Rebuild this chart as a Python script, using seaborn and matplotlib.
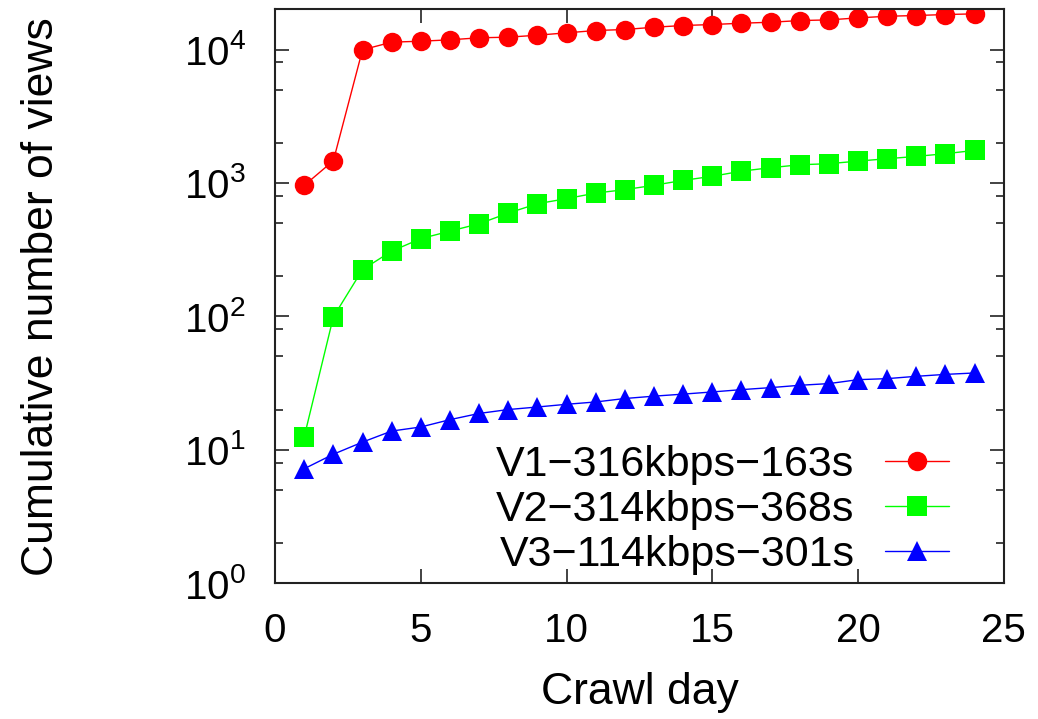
import numpy as np
import pandas as pd
import seaborn as sns
import matplotlib
matplotlib.use("Agg")
import matplotlib.pyplot as plt
from matplotlib.ticker import LogLocator, LogFormatterSciNotation, NullFormatter

# Datos
days = list(range(1, 25))
v1_views = [957, 1466, 9950, 11350, 11540, 11820, 12240, 12370, 12800, 13330, 13880, 14120,
            14690, 15130, 15390, 15740, 16010, 16480, 16670, 17260, 17750, 17980, 18290, 18500]
v2_views = [12.5, 99, 224, 308, 382, 435, 494, 594, 698, 762, 839, 890,
            960, 1045, 1120, 1225, 1300, 1368, 1393, 1457, 1518, 1580, 1656, 1752]
v3_views = [7.2, 9.25, 11.4, 13.8, 14.8, 16.8, 18.7, 20.0, 20.9, 21.9, 22.8, 24.2,
            25.2, 26.1, 27.1, 28.2, 29.2, 30.4, 31.3, 33.5, 34.1, 35.5, 36.7, 37.6]
labels = ["V1\u2212316kbps\u2212163s", "V2\u2212314kbps\u2212368s", "V3\u2212114kbps\u2212301s"]
colors = ["#ff0000", "#00ff00", "#0000ff"]

df = pd.DataFrame({
    "day": days * 3,
    "views": v1_views + v2_views + v3_views,
    "video": [labels[0]] * 24 + [labels[1]] * 24 + [labels[2]] * 24,
})

sns.set_style("ticks")
plt.rcParams["font.family"] = ["Liberation Sans", "DejaVu Sans"]
plt.rcParams["mathtext.fontset"] = "custom"
plt.rcParams["mathtext.rm"] = "Liberation Sans"
plt.rcParams["mathtext.it"] = "Liberation Sans"
plt.rcParams["text.color"] = "black"
plt.rcParams["axes.labelcolor"] = "black"
plt.rcParams["xtick.color"] = "black"
plt.rcParams["ytick.color"] = "black"

fig = plt.figure(figsize=(10.38, 7.19), dpi=100)
ax = fig.add_axes([0.265, 0.189, 0.702, 0.798])

sns.lineplot(data=df, x="day", y="views", hue="video", style="video",
             palette=dict(zip(labels, colors)),
             markers=dict(zip(labels, ["o", "s", "^"])), dashes=False,
             markersize=14, markeredgewidth=0, linewidth=1, legend=False, ax=ax)

ax.set_yscale("log")
ax.set_xlim(0, 25)
ax.set_ylim(1, 2e4)
ax.set_xticks([0, 5, 10, 15, 20, 25])
ax.yaxis.set_major_locator(LogLocator(base=10, numticks=10))
ax.yaxis.set_major_formatter(LogFormatterSciNotation())
ax.yaxis.set_minor_locator(LogLocator(base=10, subs=[2, 5, 8], numticks=10))
ax.yaxis.set_minor_formatter(NullFormatter())

ax.tick_params(which="both", direction="in", top=True, right=True, labelsize=29,
               color="#222222", labelcolor="black")
ax.tick_params(which="major", length=10, width=1.2, pad=21)
ax.tick_params(which="minor", length=6, width=1.2)
for s in ax.spines.values():
    s.set_linewidth(1.5)
    s.set_color("#222222")

ax.set_xlabel("Crawl day", fontsize=32)
ax.set_ylabel("Cumulative number of views", fontsize=32)
ax.xaxis.set_label_coords(0.5, -0.155)
ax.yaxis.set_label_coords(-0.292, 0.5)

ax.legend(ax.lines[:3], labels, loc="lower right", bbox_to_anchor=(0.925, 0.014),
          frameon=False, markerfirst=False, fontsize=31, handlelength=1.5,
          handletextpad=0.7, labelspacing=0.12, borderpad=0, borderaxespad=0)

plt.savefig("out.png", dpi=100)
